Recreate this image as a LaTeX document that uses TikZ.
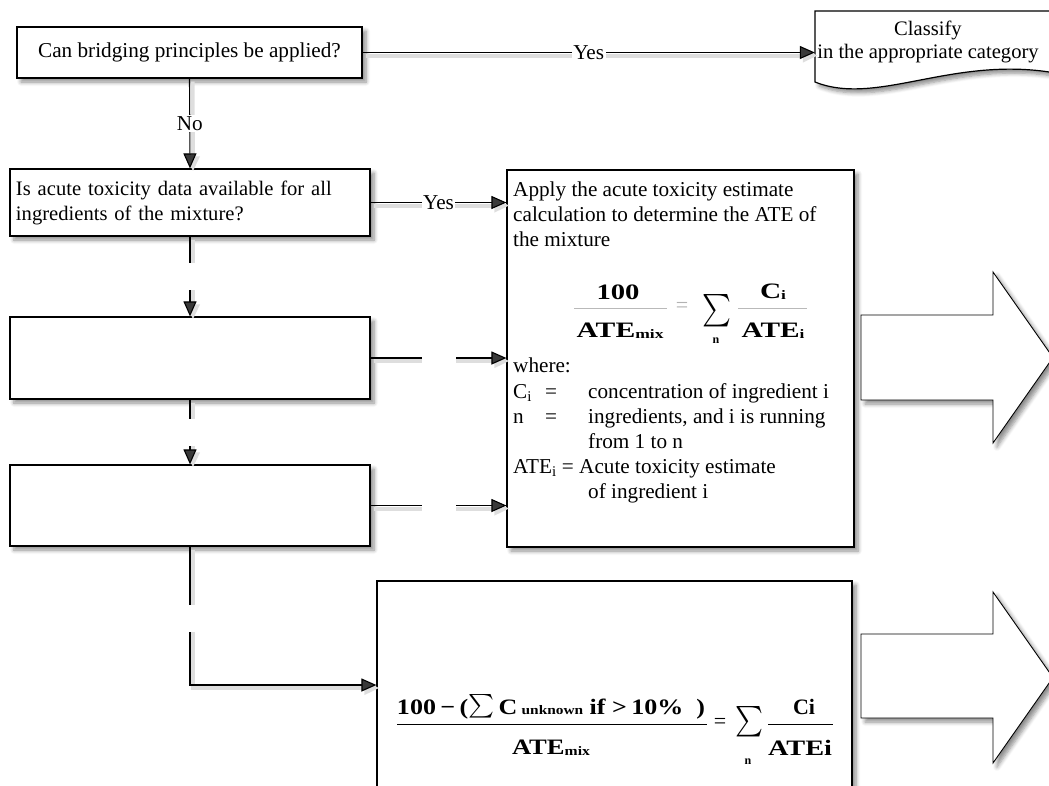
\documentclass[tikz,border=0pt]{standalone}
\usepackage{fontspec}
\setmainfont{Liberation Serif}
\usepackage{graphicx}
\usetikzlibrary{arrows.meta,shadows.blur,calc}

\newcommand{\bodyfont}{\fontsize{21.2}{25}\selectfont}
\newcommand{\eqfont}{\fontsize{22}{26}\selectfont\bfseries}
\newcommand{\subfont}{\fontsize{13}{13}\selectfont}
\newcommand{\bigsum}[2]{\resizebox*{#1}{#2}{$\textstyle\sum$}}

\tikzset{
  soft/.style={blur shadow={shadow xshift=4pt, shadow yshift=-4pt,
      shadow blur radius=4pt, shadow blur steps=6, shadow opacity=45}},
  box/.style={draw, fill=white, line width=1.2pt, inner sep=0pt, soft},
  conn/.style={line width=1.1pt, -{Triangle[length=15pt,width=13pt]},
      preaction={draw=black!13, line width=4pt,
        transform canvas={shift={(3pt,-3pt)}}}},
  lab/.style={fill=white, inner sep=1.5pt},
  gapv/.style={fill=white, inner sep=0pt, minimum width=18pt, minimum height=27pt},
  gaph/.style={fill=white, inner sep=0pt, minimum width=34pt, minimum height=16pt},
  txt/.style={inner sep=0pt, anchor=base west},
  eq/.style={inner sep=0pt},
  bigarrow/.style={draw, fill=white, line width=0.9pt, line join=miter, soft},
}

\begin{document}
\begin{tikzpicture}[x=1pt, y=-1pt, every node/.style={font=\bodyfont}]
\useasboundingbox (0,0) rectangle (1049,785);
\clip (0,0) rectangle (1049,785);

% decision boxes on the left
\node[box, minimum width=345pt, minimum height=51pt] (q1) at (189.5,52.5)
  {Can bridging principles be applied?};
\node[box, minimum width=360pt, minimum height=67pt, text width=348pt, align=left,
      font=\fontsize{20.6}{25}\selectfont] (q2) at (190,202.5)
  {Is acute toxicity data available for all\\ingredients of the mixture?};
\node[box, minimum width=360pt, minimum height=82pt] (q3) at (190,358) {};
\node[box, minimum width=360pt, minimum height=81pt] (q4) at (190,505.5) {};

% document shape: classification result
\draw[fill=white, line width=1.2pt, soft]
  (815,11) -- (1070,11) -- (1070,76)
  .. controls (960,50) and (880,108) .. (815,82) -- cycle;
\node[inner sep=0pt, minimum width=226pt, minimum height=71pt, align=center,
      font=\fontsize{20.6}{23}\selectfont] (cls) at (928,42)
  {Classify\\in the appropriate category};

% calculation boxes
\node[box, minimum width=347pt, minimum height=377pt] (ate) at (680.5,358.5) {};
\node[box, minimum width=475pt, minimum height=219pt] (f2) at (614.5,690.5) {};

% block arrows to the right
\draw[bigarrow] (861,315) -- (993,315) -- (993,272) -- (1053,357.5)
  -- (993,443) -- (993,400) -- (861,400) -- cycle;
\draw[bigarrow] (861,634) -- (993,634) -- (993,592) -- (1053,677.5)
  -- (993,763) -- (993,718) -- (861,718) -- cycle;

% text of the calculation box
\node[txt] (t1) at (513,196) {Apply the acute toxicity estimate};
\node[txt] (t2) at (513,221) {calculation to determine the ATE of};
\node[txt] (t3) at (513,246) {the mixture};
\node[txt] (w0) at (513,372) {where:};
\node[txt] (w1a) at (513,398) {C\textsubscript{i}};
\node[txt] (w1b) at (545,398) {=};
\node[txt] (w1c) at (588,398) {concentration of ingredient i};
\node[txt] (w2a) at (513,423) {n};
\node[txt] (w2b) at (545,423) {=};
\node[txt] (w2c) at (588,423) {ingredients, and i is running};
\node[txt] (w3) at (588,448) {from 1 to n};
\node[txt] (w4) at (513,473) {ATE\textsubscript{i} = Acute toxicity estimate};
\node[txt] (w5) at (588,498) {of ingredient i};

% formula: 100 / ATEmix = sum Ci / ATEi
\node[eq] (e1n) at (618,292) {\resizebox{43pt}{\height}{\eqfont 100}};
\draw[gray!55, line width=1pt] (574,308) -- (667,308);
\node[eq] (e1d) at (620,331)
  {\resizebox{87pt}{\height}{\eqfont ATE\raisebox{-1pt}{\subfont mix}}};
\node[eq, text=gray!60] (e1eq) at (682,307) {\fontsize{22}{22}\selectfont =};
\node[eq] (e1s) at (717,311) {\bigsum{29pt}{33pt}};
\node[eq] (e1sn) at (716,341) {\fontsize{12}{12}\selectfont\bfseries n};
\node[eq] (e1cn) at (773,292)
  {\resizebox{26pt}{\height}{\eqfont C\raisebox{-1pt}{\subfont i}}};
\draw[gray!55, line width=1pt] (738,308) -- (807,308);
\node[eq] (e1cd) at (773,331)
  {\resizebox{63pt}{\height}{\eqfont ATE\raisebox{-1pt}{\subfont i}}};

% formula with unknown ingredients
\node[eq] (e2n) at (551,707)
  {\resizebox{308pt}{\height}{\eqfont 100\,−\,(\raisebox{-4pt}{\bigsum{22pt}{24pt}}\,C\,{\subfont unknown} if >\,10\%\ \ )}};
\draw[line width=1pt] (397,724) -- (707,724);
\node[eq] (e2d) at (551,748)
  {\resizebox{78pt}{\height}{\eqfont ATE\raisebox{-1pt}{\subfont mix}}};
\node[eq] (e2eq) at (720,723) {\fontsize{22}{22}\selectfont =};
\node[eq] (e2s) at (749,722) {\bigsum{28pt}{31pt}};
\node[eq] (e2sn) at (748,762) {\fontsize{12}{12}\selectfont\bfseries n};
\node[eq] (e2cn) at (804,707) {\resizebox{22pt}{\height}{\eqfont Ci}};
\draw[line width=1pt] (768,724) -- (833,724);
\node[eq] (e2cd) at (800,748) {\resizebox{64pt}{\height}{\eqfont ATEi}};

% connectors
\draw[conn] (q1.east) -- node[lab] {Yes} (q1.east -| cls.west);
\draw[conn] (q1.south) -- node[lab] {No} (q2.north);
\draw[conn] (q2.east) -- node[lab] {Yes} (q2.east -| ate.west);
\draw[conn] (q2.south) -- node[gapv] {} (q3.north);
\draw[conn] (q3.south) -- node[gapv] {} (q4.north);
\draw[conn] (q3.east) -- node[gaph] {} (q3.east -| ate.west);
\draw[conn] (q4.east) -- node[gaph] {} (q4.east -| ate.west);
\coordinate (bend) at (190,685);
\draw[conn] (q4.south) -- node[gapv, pos=0.52] {} (bend) -- (bend -| f2.west);
\end{tikzpicture}
\end{document}
